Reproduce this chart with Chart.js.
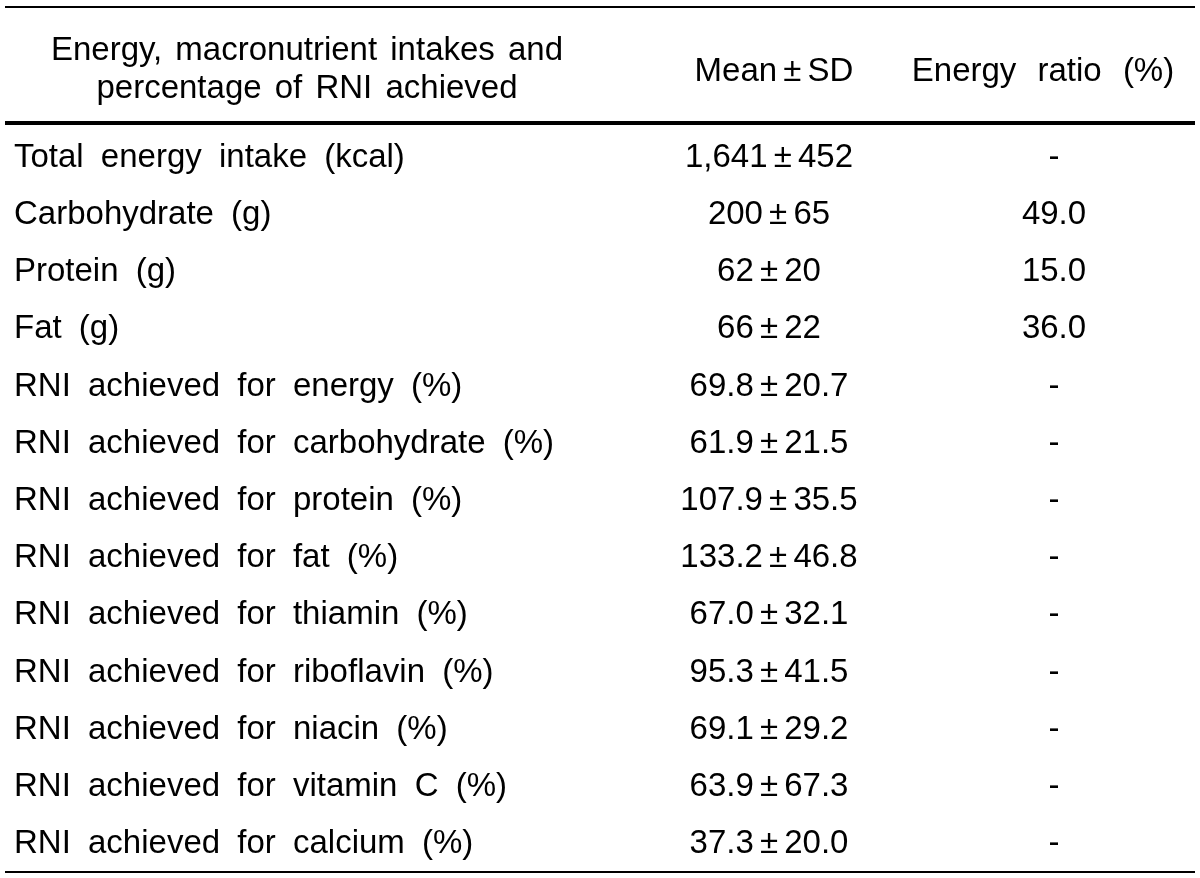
<!DOCTYPE html>
<html>
<head>
<meta charset="utf-8">
<script src="https://cdn.jsdelivr.net/npm/chart.js@4.4.1/dist/chart.umd.min.js"></script>
<style>
  html, body { margin: 0; padding: 0; background: #ffffff; }
  #wrap { width: 1200px; height: 878px; }
</style>
</head>
<body>
<div id="wrap"><canvas id="c" width="1200" height="878"></canvas></div>
<script>
// ---- data ----
const headerCol1 = ["Energy, macronutrient intakes and", "percentage of RNI achieved"];
const headerCol2 = "Mean \u00B1 SD";
const headerCol3 = "Energy ratio (%)";

const rowLabels = [
  "Total energy intake (kcal)",
  "Carbohydrate (g)",
  "Protein (g)",
  "Fat (g)",
  "RNI achieved for energy (%)",
  "RNI achieved for carbohydrate (%)",
  "RNI achieved for protein (%)",
  "RNI achieved for fat (%)",
  "RNI achieved for thiamin (%)",
  "RNI achieved for riboflavin (%)",
  "RNI achieved for niacin (%)",
  "RNI achieved for vitamin C (%)",
  "RNI achieved for calcium (%)"
];
const meanValues = [1641, 200, 62, 66, 69.8, 61.9, 107.9, 133.2, 67.0, 95.3, 69.1, 63.9, 37.3];
const sdValues   = [452, 65, 20, 22, 20.7, 21.5, 35.5, 46.8, 32.1, 41.5, 29.2, 67.3, 20.0];
const decimals   = [0, 0, 0, 0, 1, 1, 1, 1, 1, 1, 1, 1, 1];
const energyRatio = [null, 49.0, 15.0, 36.0, null, null, null, null, null, null, null, null, null];

// ---- layout (not data) ----
const colAnchor = [9, 764, 1049];        // x-scale values: left edge of col 1, centres of col 2/3
const headerAnchor = [302, 769, 1038];   // x-scale values for header texts
const FONT = '33px "Liberation Sans", Arial, sans-serif';

function fmt(v, d) {
  return v.toLocaleString('en-US', { minimumFractionDigits: d, maximumFractionDigits: d });
}

const col1Text = rowLabels.slice();
const col2Text = meanValues.map((m, i) => fmt(m, decimals[i]) + ' \u00B1 ' + fmt(sdValues[i], decimals[i]));
const col3Text = energyRatio.map(v => v === null ? '-' : v.toFixed(1));

const tablePlugin = {
  id: 'tableText',
  afterDatasetsDraw(chart) {
    const ctx = chart.ctx;
    const ca = chart.chartArea;
    const xs = chart.scales.x;
    ctx.save();
    ctx.fillStyle = '#000';
    ctx.font = FONT;
    ctx.textBaseline = 'alphabetic';
    const base = 12; // cap-centre to baseline
    chart.data.datasets.forEach((ds, di) => {
      const meta = chart.getDatasetMeta(di);
      ctx.textAlign = ds.textAlign;
      ctx.wordSpacing = ds.wordSpacing;
      meta.data.forEach((pt, i) => {
        ctx.fillText(ds.texts[i], pt.x, pt.y + base);
      });
    });
    // header
    ctx.textAlign = 'center';
    ctx.wordSpacing = '4px';
    ctx.fillText(headerCol1[0], xs.getPixelForValue(headerAnchor[0]), 48 + base);
    ctx.fillText(headerCol1[1], xs.getPixelForValue(headerAnchor[0]), 86 + base);
    ctx.wordSpacing = '-3px';
    ctx.fillText(headerCol2, xs.getPixelForValue(headerAnchor[1]), 69 + base);
    ctx.wordSpacing = '12px';
    ctx.fillText(headerCol3, xs.getPixelForValue(headerAnchor[2]), 69 + base);
    // rules
    ctx.strokeStyle = '#000';
    ctx.lineWidth = 2;
    ctx.beginPath(); ctx.moveTo(ca.left, 7); ctx.lineTo(ca.right, 7); ctx.stroke();
    ctx.lineWidth = 4;
    ctx.beginPath(); ctx.moveTo(ca.left, 123); ctx.lineTo(ca.right, 123); ctx.stroke();
    ctx.lineWidth = 2;
    ctx.beginPath(); ctx.moveTo(ca.left, 872); ctx.lineTo(ca.right, 872); ctx.stroke();
    ctx.restore();
  }
};

function pts(col) { return rowLabels.map(r => ({ x: colAnchor[col], y: r })); }

new Chart(document.getElementById('c'), {
  type: 'scatter',
  data: {
    datasets: [
      { data: pts(0), texts: col1Text, textAlign: 'left', wordSpacing: '8px', pointRadius: 0 },
      { data: pts(1), texts: col2Text, textAlign: 'center', wordSpacing: '-3px', pointRadius: 0 },
      { data: pts(2), texts: col3Text, textAlign: 'center', wordSpacing: '6px', pointRadius: 0 }
    ]
  },
  options: {
    responsive: false,
    animation: false,
    devicePixelRatio: 1,
    layout: { padding: { top: 126, bottom: 8, left: 5, right: 5 } },
    plugins: { legend: { display: false }, tooltip: { enabled: false } },
    scales: {
      x: { type: 'linear', min: 0, max: 1190, display: false },
      y: { type: 'category', labels: rowLabels, offset: true, display: false }
    }
  },
  plugins: [tablePlugin]
});
</script>
</body>
</html>
